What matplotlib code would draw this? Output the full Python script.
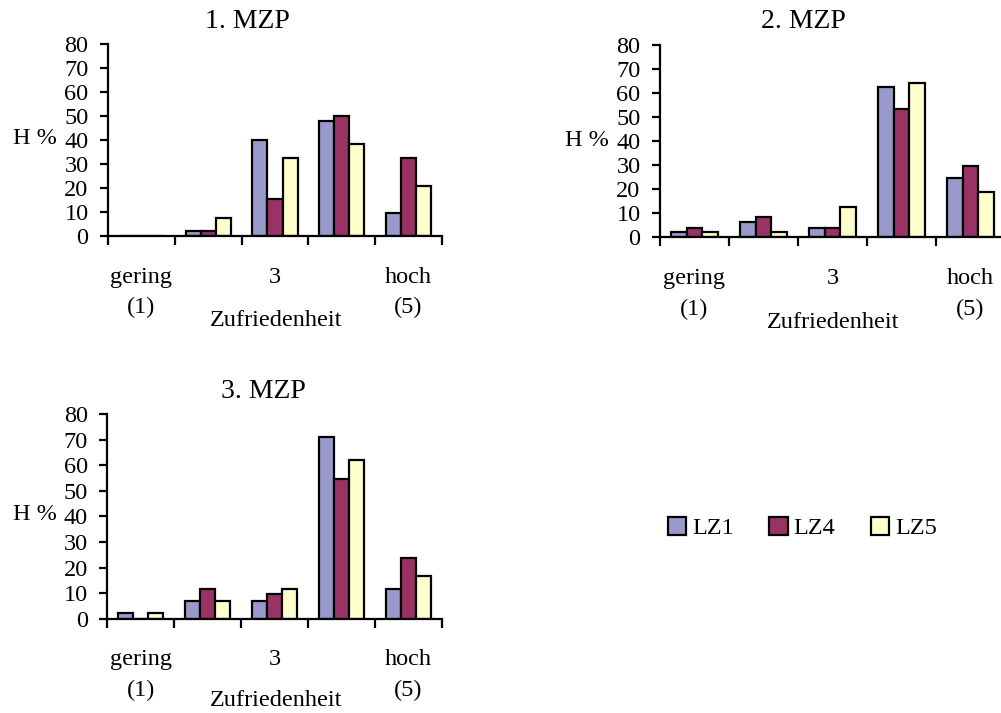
import matplotlib
matplotlib.use("Agg")
import matplotlib.pyplot as plt
import numpy as np

plt.rcParams['font.family'] = ['Liberation Serif', 'DejaVu Serif']

categories = ["gering\n(1)", "", "3", "", "hoch\n(5)"]
series = ["LZ1", "LZ4", "LZ5"]
colors = ["#9999CC", "#993366", "#FFFFCC"]

mzp1_lz1 = [0, 2, 40, 48, 9.5]
mzp1_lz4 = [0, 2, 15.5, 50, 32.5]
mzp1_lz5 = [0, 7.5, 32.5, 38.5, 21]

mzp2_lz1 = [2, 6.3, 4, 62.3, 24.6]
mzp2_lz4 = [4, 8.3, 4, 53.2, 29.7]
mzp2_lz5 = [2, 2, 12.5, 64.2, 18.7]

mzp3_lz1 = [2.2, 7, 7, 71.2, 11.7]
mzp3_lz4 = [0, 11.8, 9.5, 54.7, 23.8]
mzp3_lz5 = [2.2, 7, 11.8, 61.9, 16.6]

titles = ["1. MZP", "2. MZP", "3. MZP"]
xlabel = "Zufriedenheit"
ylabel = "H %"
yticks = [0, 10, 20, 30, 40, 50, 60, 70, 80]

W, H = 1001, 713
fig = plt.figure(figsize=(W / 100, H / 100), dpi=100)

def fx(x):
    return x / W

def fy(y):
    return 1 - y / H

layouts = [
    dict(l=108, r=442, t=44, b=236, title=(247, 22), yl=(35, 138), xl=(276, 320)),
    dict(l=660, r=1005, t=44.7, b=237.3, title=(803, 22), yl=(587, 140), xl=(833, 322)),
    dict(l=107.3, r=441.7, t=414, b=618.7, title=(263, 392), yl=(35, 514), xl=(276, 701)),
]
data = [
    [mzp1_lz1, mzp1_lz4, mzp1_lz5],
    [mzp2_lz1, mzp2_lz4, mzp2_lz5],
    [mzp3_lz1, mzp3_lz4, mzp3_lz5],
]

FS = 17.5
LW = 1.6
bw = 0.225
handles = None
for lay, vals, title in zip(layouts, data, titles):
    ax = fig.add_axes([fx(lay['l']), fy(lay['b']), (lay['r'] - lay['l']) / W,
                       (lay['b'] - lay['t']) / H])
    x = np.arange(1, len(categories) + 1)
    hs = []
    for i, (v, c) in enumerate(zip(vals, colors)):
        h = ax.bar(x + (i - 1) * bw, v, width=bw, color=c, edgecolor='black',
                   linewidth=LW, label=series[i], zorder=2)
        hs.append(h)
    handles = hs
    ax.set_xlim(0.5, len(categories) + 0.5)
    ax.set_ylim(0, 80)
    ax.set_yticks(yticks)
    ax.tick_params(axis='y', direction='out', length=6, width=LW, labelsize=FS, pad=8)
    ax.set_xticks(np.arange(0.5, len(categories) + 1.5, 1.0))
    ax.set_xticklabels([])
    ax.tick_params(axis='x', which='major', direction='out', length=6.5, width=LW)
    ax.set_xticks(x, minor=True)
    ax.set_xticklabels(categories, minor=True, fontsize=FS, linespacing=1.6)
    ax.tick_params(axis='x', which='minor', length=0, pad=22)
    for s in ['top', 'right']:
        ax.spines[s].set_visible(False)
    for s in ['left', 'bottom']:
        ax.spines[s].set_linewidth(LW)
        ax.spines[s].set_zorder(3)
    fig.text(fx(lay['title'][0]), fy(lay['title'][1]), title, fontsize=20,
             ha='center', va='center')
    fig.text(fx(lay['yl'][0]), fy(lay['yl'][1]), ylabel, fontsize=FS,
             ha='center', va='center')
    fig.text(fx(lay['xl'][0]), fy(lay['xl'][1]), xlabel, fontsize=FS,
             ha='center', va='center')

fig.legend(handles, series, loc='center left', bbox_to_anchor=(fx(668), fy(528)),
           ncol=3, frameon=False, fontsize=FS, handlelength=0.75, handleheight=0.75,
           handletextpad=0.25, columnspacing=1.45, borderaxespad=0, borderpad=0)

fig.savefig("out.png", dpi=100)
